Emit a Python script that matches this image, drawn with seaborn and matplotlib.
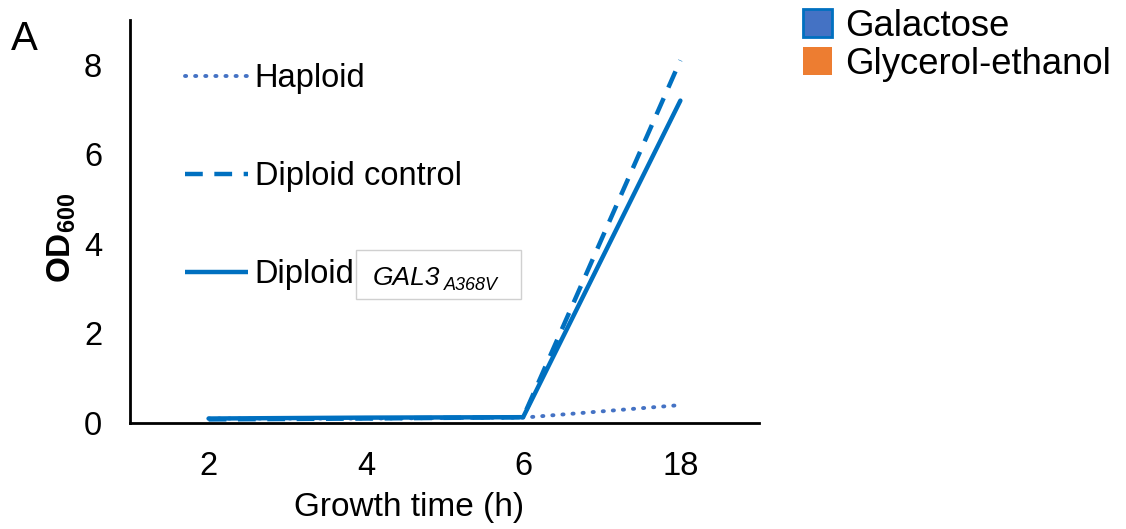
import numpy as np
import pandas as pd
import matplotlib
matplotlib.use("Agg")
import matplotlib.pyplot as plt
from matplotlib.lines import Line2D
from matplotlib.patches import Patch, Rectangle
import seaborn as sns

# ---- data ----
time_labels = ["2", "4", "6", "18"]
haploid = [0.10, 0.10, 0.12, 0.40]
diploid_control = [0.08, 0.10, 0.13, 8.10]
diploid_gal3 = [0.10, 0.12, 0.13, 7.20]
series_names = ["Haploid", "Diploid control", "Diploid GAL3"]
y_ticks = [0, 2, 4, 6, 8]
condition_names = ["Galactose", "Glycerol-ethanol"]

sns.set_theme(style="white")
plt.rcParams["font.family"] = ["Liberation Sans", "DejaVu Sans"]
plt.rcParams["mathtext.fontset"] = "custom"
plt.rcParams["mathtext.rm"] = "Liberation Sans"
plt.rcParams["mathtext.it"] = "Liberation Sans:italic"
plt.rcParams["mathtext.bf"] = "Liberation Sans:bold"
plt.rcParams["text.color"] = "black"
plt.rcParams["axes.labelcolor"] = "black"
plt.rcParams["xtick.color"] = "black"
plt.rcParams["ytick.color"] = "black"

W, H = 1126, 529
pos = np.arange(len(time_labels))
df = pd.DataFrame({
    "pos": np.tile(pos, 3),
    "od": haploid + diploid_control + diploid_gal3,
    "series": np.repeat(series_names, len(time_labels)),
})

fig = plt.figure(figsize=(W / 100, H / 100), dpi=100)
ax = fig.add_axes([130 / W, 1 - 423 / H, (759 - 130) / W, (423 - 20) / H])

styles = {
    "Haploid": dict(color="#4472C4", lw=2.8, ls=(0, (0.3, 2.3)), cap="round"),
    "Diploid control": dict(color="#0070C0", lw=3.2, ls=(0, (4, 2.6)), cap="butt"),
    "Diploid GAL3": dict(color="#0070C0", lw=3.2, ls="-", cap="round"),
}
handles = []
for name in series_names:
    st = styles[name]
    sub = df[df["series"] == name]
    sns.lineplot(data=sub, x="pos", y="od", ax=ax, color=st["color"],
                 linewidth=st["lw"], linestyle=st["ls"], legend=False,
                 solid_capstyle=st["cap"], dash_capstyle=st["cap"])
    handles.append(Line2D([], [], color=st["color"], lw=st["lw"], ls=st["ls"],
                          solid_capstyle="butt", dash_capstyle=st["cap"]))

ax.set_xlim(-0.5, 3.5)
ax.set_ylim(0, 9)
ax.set_xticks(pos)
ax.set_xticklabels(time_labels)
ax.set_yticks(y_ticks)
ax.tick_params(axis="both", labelsize=23.5, length=0)
ax.tick_params(axis="y", pad=20)
ax.tick_params(axis="x", pad=20)
for s in ["top", "right"]:
    ax.spines[s].set_visible(False)
for s in ["left", "bottom"]:
    ax.spines[s].set_color("black")
    ax.spines[s].set_linewidth(2)
ax.set_xlabel("Growth time (h)", fontsize=24)
ax.xaxis.set_label_coords((409 - 130) / 629, -0.172)
ax.set_ylabel(r"$\mathbf{OD}_{\mathbf{600}}$", fontsize=24)
ax.yaxis.set_label_coords(-0.082, 0.46)

leg = ax.legend(handles, ["Haploid", "Diploid control", "Diploid"],
                loc="upper left", bbox_to_anchor=(0.066, 0.925),
                frameon=False, fontsize=23.5, handlelength=1.95,
                handletextpad=0.2, labelspacing=2.05, borderaxespad=0)

# boxed italic genotype label
fig.add_artist(Rectangle((356 / W, 1 - 299 / H), (521 - 356) / W, (299 - 250) / H,
                         transform=fig.transFigure, fc="white", ec="#D0D0D0", lw=1))
fig.text(373 / W, 1 - 285 / H, "GAL3", fontsize=19, style="italic",
         ha="left", va="baseline")
fig.text(444 / W, 1 - 290 / H, "A368V", fontsize=13, style="italic",
         ha="left", va="baseline")

fig.text(11 / W, 1 - 50 / H, "A", fontsize=29)

cond_handles = [Patch(facecolor="#4472C4", edgecolor="#0070C0", lw=2),
                Patch(facecolor="#ED7D31", edgecolor="#ED7D31", lw=0)]
fig.legend(cond_handles, condition_names, loc="upper left",
           bbox_to_anchor=(803 / W, 1 - 9 / H), frameon=False,
           fontsize=26.3, handlelength=0.8, handleheight=0.8,
           handletextpad=0.35, labelspacing=0.08, borderaxespad=0,
           borderpad=0)

fig.savefig("out.png", dpi=100)
